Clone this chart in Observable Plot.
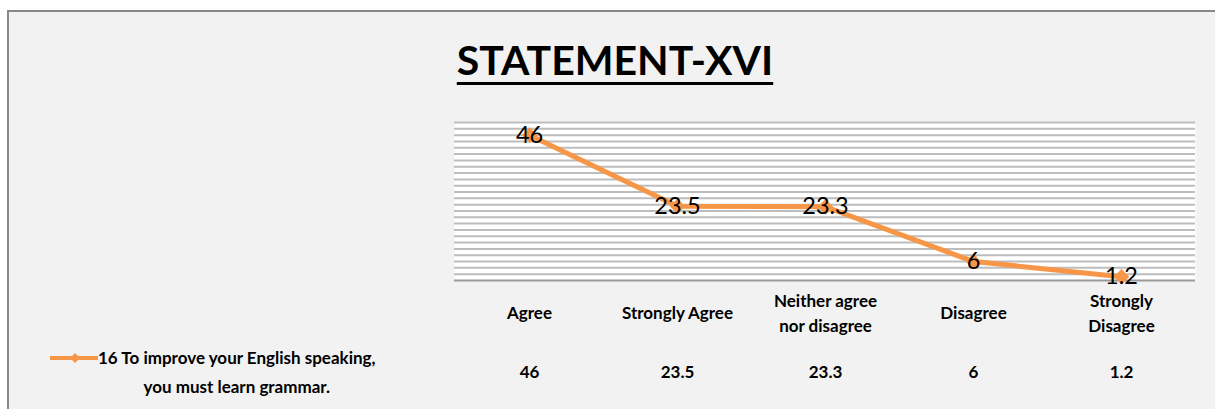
<!DOCTYPE html>
<html>
<head>
<meta charset="utf-8">
<script src="https://cdn.jsdelivr.net/npm/d3@7"></script>
<script src="https://cdn.jsdelivr.net/npm/@observablehq/plot@0.6"></script>
<style>
  html, body { margin: 0; padding: 0; background: #ffffff; }
  #wrap { position: relative; width: 1215px; height: 409px; overflow: hidden; font-family: Lato, "Open Sans", sans-serif; }
  #panel { position: absolute; left: 7px; top: 10px; width: 1220px; height: 410px; background: #f2f2f2; border-left: 2px solid #888; border-top: 2px solid #888; }
  #title { position: absolute; left: 0; width: 1230px; top: 39px; text-align: center; font-weight: 700; font-size: 41px; color: #000; line-height: 1; }
  #title span { text-decoration: underline; text-decoration-thickness: 3px; text-underline-offset: 7px; }
  #chart { position: absolute; left: 0; top: 100px; }
  #legend { position: absolute; left: 48px; top: 346px; display: flex; align-items: flex-start; }
  #legend .txt { font-weight: 700; font-size: 17px; text-align: center; line-height: 29px; color: #000; margin-top: -3px; }
</style>
</head>
<body>
<div id="wrap">
  <div id="panel"></div>
  <div id="title"><span>STATEMENT-XVI</span></div>
  <div id="chart"></div>
  <div id="legend">
    <svg width="50" height="24"><line x1="2" y1="12" x2="50" y2="12" stroke="#f79646" stroke-width="4"/><path d="M27,7 L32,12 L27,17 L22,12 Z" fill="#f79646"/></svg>
    <div class="txt">16 To improve your English speaking,<br>you must learn grammar.</div>
  </div>
</div>
<script>
const categories = ["Agree", "Strongly Agree", "Neither agree\nnor disagree", "Disagree", "Strongly\nDisagree"];
const values = [46, 23.5, 23.3, 6, 1.2];
const valueLabels = ["46", "23.5", "23.3", "6", "1.2"];
const gridTicks = d3.range(2, 51, 2);

const data = categories.map((c, i) => ({cat: c, v: values[i], lbl: valueLabels[i]}));

const chart = Plot.plot({
  width: 1215,
  height: 309,
  marginLeft: 454,
  marginRight: 20,
  marginTop: 22,
  marginBottom: 129,
  style: {background: "transparent", fontFamily: "Lato, 'Open Sans', sans-serif"},
  x: {type: "band", domain: categories, padding: 0, axis: null},
  y: {domain: [0, 50], axis: null},
  marks: [
    Plot.frame({fill: "#ffffff", stroke: "none"}),
    Plot.ruleY(gridTicks, {stroke: "#bdbdbd", strokeWidth: 2}),
    Plot.ruleY([0], {stroke: "#999999", strokeWidth: 2}),
    Plot.line(data, {x: "cat", y: "v", stroke: "#f79646", strokeWidth: 5}),
    Plot.dot(data, {x: "cat", y: "v", symbol: "diamond2", r: 7, fill: "#f79646", stroke: "none"}),
    Plot.text(data, {x: "cat", y: "v", text: "lbl", fontSize: 23.5, fill: "#000", textAnchor: "middle", lineAnchor: "middle"}),
    Plot.text(data, {x: "cat", text: "cat", frameAnchor: "bottom", dy: 31, lineAnchor: "middle", lineHeight: 1.45, fontSize: 17, fontWeight: "bold", fill: "#000"}),
    Plot.text(data, {x: "cat", text: "lbl", frameAnchor: "bottom", dy: 92, lineAnchor: "middle", fontSize: 17, fontWeight: "bold", fill: "#000"})
  ]
});
document.getElementById("chart").appendChild(chart);
</script>
</body>
</html>
